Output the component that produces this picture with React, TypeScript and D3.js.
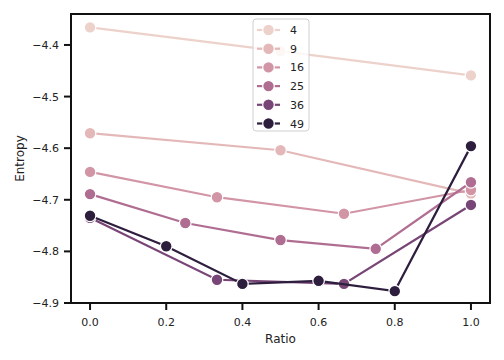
import React from "react";
import * as d3 from "d3";

const seriesNames = [4, 9, 16, 25, 36, 49];
const ratios4 = [0, 0.5, 1];
const ratios9 = [0, 0.5, 1];
const ratios16 = [0, 1 / 3, 2 / 3, 1];
const ratios25 = [0, 0.25, 0.5, 0.75, 1];
const ratios36 = [0, 1 / 3, 2 / 3, 1];
const ratios49 = [0, 0.2, 0.4, 0.6, 0.8, 1];
const entropy4 = [-4.366, -4.412, -4.459];
const entropy9 = [-4.571, -4.604, -4.688];
const entropy16 = [-4.646, -4.695, -4.727, -4.681];
const entropy25 = [-4.689, -4.745, -4.778, -4.795, -4.666];
const entropy36 = [-4.735, -4.855, -4.863, -4.71];
const entropy49 = [-4.731, -4.79, -4.863, -4.857, -4.877, -4.596];
const xTicks = [0, 0.2, 0.4, 0.6, 0.8, 1.0];
const yTicks = [-4.9, -4.8, -4.7, -4.6, -4.5, -4.4];

const allRatios = [ratios4, ratios9, ratios16, ratios25, ratios36, ratios49];
const allEntropy = [entropy4, entropy9, entropy16, entropy25, entropy36, entropy49];

// matplotlib/seaborn cubehelix ("ch:") colormap
function cubehelix(t: number): string {
  const x = 0.85 - 0.7 * t;
  const h = 0.8, s = 0, r = 0.4, gamma = 1;
  const xg = Math.pow(x, gamma);
  const a = (h * xg * (1 - xg)) / 2;
  const phi = 2 * Math.PI * (s / 3 + r * x);
  const f = (p0: number, p1: number) =>
    Math.max(0, Math.min(1, xg + a * (p0 * Math.cos(phi) + p1 * Math.sin(phi))));
  const R = f(-0.14861, 1.78277);
  const G = f(-0.29227, -0.90649);
  const B = f(1.97294, 0);
  return d3.rgb(R * 255, G * 255, B * 255).formatHex();
}

const W = 504, H = 360;
const left = 71, right = 490, top = 14, bottom = 303;
const FONT = "DejaVu Sans, sans-serif";

export default function App() {
  const x = d3.scaleLinear().domain([-0.05, 1.05]).range([left, right]);
  const y = d3.scaleLinear().domain([-4.9, -4.34]).range([bottom, top]);
  const minN = d3.min(seriesNames)!, maxN = d3.max(seriesNames)!;
  const color = (n: number) => cubehelix((n - minN) / (maxN - minN));
  const line = d3
    .line<[number, number]>()
    .x((d) => x(d[0]))
    .y((d) => y(d[1]));
  const fmt = d3.format(".1f");
  const minus = (v: number) => fmt(v).replace("-", "\u2212");

  const legX = 253, legY = 19, legW = 56, legH = 112, rowH = 18.7;

  return (
    <svg width={W} height={H} style={{ position: "absolute", left: 0, top: 0 }}>
      <rect x={0} y={0} width={W} height={H} fill="#fff" />
      {seriesNames.map((n, i) => {
        const pts = allRatios[i].map((r, j) => [r, allEntropy[i][j]] as [number, number]);
        const c = color(n);
        return (
          <g key={n}>
            <path d={line(pts)!} fill="none" stroke={c} strokeWidth={2.2} />
            {pts.map((p, j) => (
              <circle key={j} cx={x(p[0])} cy={y(p[1])} r={5.8} fill={c} stroke="#fff" strokeWidth={1.2} />
            ))}
          </g>
        );
      })}
      {/* axes spines */}
      <rect x={left} y={top} width={right - left} height={bottom - top} fill="none" stroke="#111" strokeWidth={2} />
      {xTicks.map((t) => (
        <g key={t}>
          <line x1={x(t)} x2={x(t)} y1={bottom} y2={bottom + 7} stroke="#111" strokeWidth={2} />
          <text x={x(t)} y={326} textAnchor="middle" fontFamily={FONT} fontSize={11} fill="#222">
            {fmt(t)}
          </text>
        </g>
      ))}
      {yTicks.map((t) => (
        <g key={t}>
          <line x1={left - 7} x2={left} y1={y(t)} y2={y(t)} stroke="#111" strokeWidth={2} />
          <text x={59} y={y(t) + 4} textAnchor="end" fontFamily={FONT} fontSize={11} fill="#222">
            {minus(t)}
          </text>
        </g>
      ))}
      <text x={(left + right) / 2} y={343} textAnchor="middle" fontFamily={FONT} fontSize={12} fill="#222">
        Ratio
      </text>
      <text
        transform={`translate(24,${(top + bottom) / 2}) rotate(-90)`}
        textAnchor="middle"
        fontFamily={FONT}
        fontSize={12}
        fill="#222"
      >
        Entropy
      </text>
      {/* legend */}
      <rect x={legX} y={legY} width={legW} height={legH} rx={3} fill="#fff" fillOpacity={0.8} stroke="#d0d0d0" strokeWidth={1} />
      {seriesNames.map((n, i) => {
        const cy = 30 + i * rowH;
        const c = color(n);
        return (
          <g key={n}>
            <line x1={257} x2={280} y1={cy} y2={cy} stroke={c} strokeWidth={2.2} />
            <circle cx={268.5} cy={cy} r={5.8} fill={c} stroke="#fff" strokeWidth={1.2} />
            <text x={290} y={cy + 4} fontFamily={FONT} fontSize={11} fill="#222">
              {n}
            </text>
          </g>
        );
      })}
    </svg>
  );
}
